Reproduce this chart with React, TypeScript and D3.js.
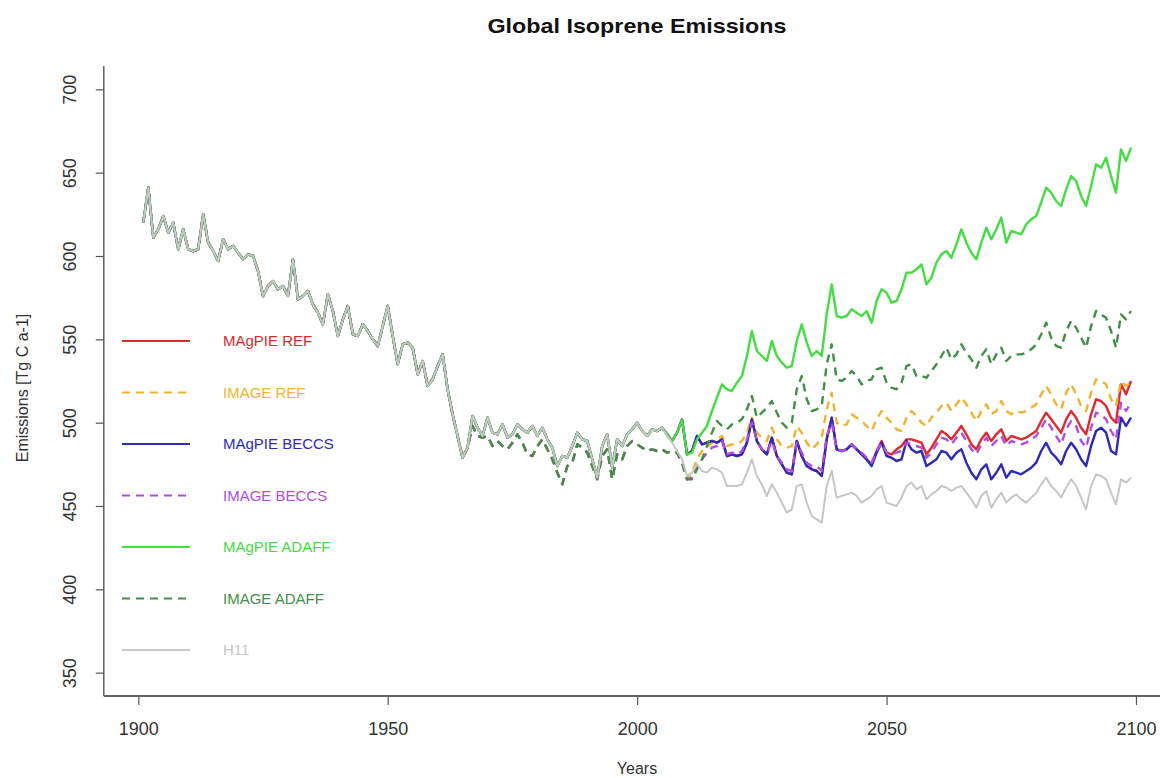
import { useEffect, useRef } from 'react';
import * as d3 from 'd3';

// Global isoprene emissions [Tg C a-1], one value per year 1901..2099
const years = d3.range(1901, 2100);

// 1901-1965, shared by every run
const histEarly = [
  620, 641, 611, 616, 624, 614, 620, 604, 616, 604,
  603, 604, 625, 608, 603, 597, 610, 604, 606, 602,
  598, 601, 600, 591, 576, 582, 585, 580, 582, 576,
  598, 574, 576, 579, 571, 566, 559, 577, 567, 552,
  562, 570, 553, 552, 559, 555, 550, 546, 558, 570,
  552, 535, 547, 548, 545, 529, 537, 522, 526, 534,
  541, 520, 505, 492, 479,
];

// 1966-2005
const magpieHist = [
  485, 504, 497, 492, 503, 494, 493, 499, 491, 493,
  499, 496, 494, 498, 492, 497, 490, 485, 474, 480,
  479, 486, 494, 490, 489, 478, 467, 486, 493, 473,
  490, 486, 493, 496, 500, 495, 492, 496, 495, 497,
];
const imageHist = [
  485, 498, 492, 491, 492, 486, 489, 486, 484, 488,
  493, 488, 481, 480, 486, 490, 484, 478, 470, 463,
  474, 476, 487, 485, 482, 474, 466, 480, 484, 466,
  481, 478, 486, 489, 487, 485, 483, 484, 483, 484,
];

// 2006-2010
const magpieTransition = [493, 489, 494, 502, 481];
const h11Transition = [492, 488, 483, 478, 468];
const imageTransition = [482, 483, 482, 476, 466];

// 2011-2099
const magpieRef = [
  483, 492, 487, 488, 489, 488, 490, 480, 481, 480,
  481, 488, 502, 489, 484, 481, 491, 480, 475, 470,
  469, 489, 480, 474, 472, 471, 468, 490, 503, 484,
  483, 484, 487, 484, 481, 478, 475, 483, 489, 482,
  481, 484, 486, 490, 490, 489, 488, 481, 485, 490,
  495, 493, 490, 494, 498, 493, 487, 484, 490, 494,
  489, 493, 496, 489, 492, 491, 490, 491, 493, 495,
  501, 506, 502, 498, 494, 502, 507, 503, 497, 493,
  505, 514, 513, 510, 503, 500, 523, 517, 525,
];
const imageRef = [
  470, 478, 483, 485, 488, 490, 492, 486, 487, 487,
  489, 494, 503, 494, 491, 489, 497, 490, 486, 485,
  486, 498, 494, 488, 484, 487, 491, 508, 518, 500,
  498, 499, 505, 503, 501, 498, 495, 502, 507, 503,
  500, 496, 495, 503, 507, 504, 500, 498, 503, 506,
  510, 512, 507, 511, 515, 511, 506, 501, 507, 511,
  505, 507, 513, 507, 505, 507, 506, 507, 509, 511,
  517, 522, 517, 511, 508, 518, 523, 517, 510, 507,
  518, 526, 525, 523, 514, 510, 525, 522, 524,
];
const magpieBeccs = [
  483, 492, 487, 488, 489, 488, 490, 480, 481, 480,
  481, 488, 502, 489, 484, 481, 491, 480, 475, 470,
  469, 489, 480, 474, 472, 471, 468, 490, 503, 484,
  483, 484, 487, 484, 481, 478, 474, 482, 488, 480,
  479, 477, 478, 489, 484, 482, 483, 474, 476, 478,
  483, 482, 478, 482, 484, 476, 470, 466, 472, 475,
  466, 470, 475, 467, 471, 470, 469, 471, 473, 476,
  483, 488, 482, 479, 475, 483, 488, 484, 478, 474,
  486, 495, 497, 494, 483, 481, 503, 498, 503,
];
const imageBeccs = [
  467, 474, 478, 482, 485, 486, 489, 481, 482, 481,
  483, 490, 500, 489, 484, 482, 489, 480, 476, 472,
  471, 488, 482, 476, 474, 474, 471, 492, 500, 484,
  483, 484, 487, 484, 482, 479, 476, 483, 488, 482,
  481, 482, 483, 488, 487, 486, 485, 479, 482, 487,
  491, 490, 487, 491, 494, 489, 484, 481, 487, 491,
  486, 489, 492, 486, 489, 488, 487, 488, 490, 492,
  497, 502, 497, 492, 487, 496, 501, 498, 489, 485,
  497, 506, 505, 502, 495, 490, 512, 507, 512,
];
const magpieAdaff = [
  482, 490, 494, 498, 507, 515, 523, 520, 519, 524,
  528, 540, 555, 543, 540, 537, 549, 540, 536, 533,
  534, 549, 559, 548, 540, 543, 540, 565, 583, 564,
  563, 564, 568, 566, 564, 567, 560, 573, 580, 578,
  572, 573, 580, 590, 590, 592, 595, 583, 587, 596,
  601, 603, 599, 607, 616, 608, 602, 598, 608, 617,
  610, 616, 623, 608, 615, 614, 613, 619, 622, 624,
  632, 641, 638, 633, 630, 640, 648, 645, 636, 630,
  642, 655, 653, 659, 648, 638, 664, 657, 665,
];
const imageAdaff = [
  466, 472, 478, 486, 494, 501, 498, 496, 499, 500,
  502, 508, 516, 503, 506, 509, 513, 506, 500, 497,
  500, 520, 528, 514, 507, 508, 510, 535, 547, 526,
  525, 527, 531, 528, 523, 525, 526, 532, 533, 524,
  521, 520, 524, 534, 535, 528, 528, 527, 531, 535,
  540, 545, 538, 541, 547, 542, 538, 533, 540, 544,
  535, 541, 545, 537, 540, 541, 541, 542, 544, 547,
  553, 560, 551, 546, 545, 555, 561, 557, 551, 545,
  558, 567, 565, 563, 555, 545, 565, 562, 567,
];
const h11 = [
  470, 475, 471, 470, 473, 472, 470, 462, 462, 462,
  463, 470, 478, 468, 463, 456, 463, 458, 452, 446,
  448, 462, 463, 452, 444, 442, 440, 462, 471, 455,
  456, 457, 458, 456, 452, 454, 456, 460, 462, 452,
  451, 450, 455, 462, 464, 460, 462, 454, 457, 459,
  462, 461, 459, 461, 462, 458, 454, 449, 456, 459,
  449, 454, 458, 452, 455, 457, 454, 452, 455, 458,
  463, 467, 462, 459, 455, 461, 466, 462, 455, 448,
  462, 469, 468, 466, 458, 451, 466, 464, 467,
];

const yTicks = [350, 400, 450, 500, 550, 600, 650, 700];
const xTicks = [1900, 1950, 2000, 2050, 2100];

const magpie = (f: number[]) => [...histEarly, ...magpieHist, ...magpieTransition, ...f];
const image = (f: number[]) => [...histEarly, ...imageHist, ...imageTransition, ...f];

const series = [
  { name: 'MAgPIE REF', color: '#e0282e', dashed: false, values: magpie(magpieRef) },
  { name: 'IMAGE REF', color: '#efb331', dashed: true, values: image(imageRef) },
  { name: 'MAgPIE BECCS', color: '#2b2bb8', dashed: false, values: magpie(magpieBeccs) },
  { name: 'IMAGE BECCS', color: '#b04de0', dashed: true, values: image(imageBeccs) },
  { name: 'MAgPIE ADAFF', color: '#44dd44', dashed: false, values: magpie(magpieAdaff) },
  { name: 'IMAGE ADAFF', color: '#3f8f47', dashed: true, values: image(imageAdaff) },
  { name: 'H11', color: '#c6c6c6', dashed: false, values: [...histEarly, ...magpieHist, ...h11Transition, ...h11] },
];

const FONT = '"Liberation Sans", Arial, Helvetica, sans-serif';

export default function App() {
  const ref = useRef<SVGSVGElement>(null);

  useEffect(() => {
    if (!ref.current) return;
    const svg = d3.select(ref.current);
    svg.selectAll('*').remove();

    // R-style 4% padding around the data range
    const xPad = (2099 - 1901) * 0.04;
    const x = d3.scaleLinear().domain([1901 - xPad, 2099 + xPad]).range([103.8, 1170.5]);
    const yPad = (700 - 350) * 0.04;
    const y = d3.scaleLinear().domain([350 - yPad, 700 + yPad]).range([696, 66]);

    const line = d3
      .line<number>()
      .x((_, i) => x(years[i]))
      .y((d) => y(d));

    series.forEach((s) => {
      svg
        .append('path')
        .datum(s.values)
        .attr('fill', 'none')
        .attr('stroke', s.color)
        .attr('stroke-width', s.name === 'H11' ? 2 : 2.4)
        .attr('stroke-linejoin', 'round')
        .attr('stroke-dasharray', s.dashed ? '8,6' : null)
        .attr('d', line);
    });

    // L-shaped box
    svg.append('line').attr('x1', 103.8).attr('x2', 103.8).attr('y1', 66).attr('y2', 696)
      .attr('stroke', '#555').attr('stroke-width', 1.4);
    svg.append('line').attr('x1', 103.8).attr('x2', 1170).attr('y1', 696).attr('y2', 696)
      .attr('stroke', '#666').attr('stroke-width', 1.8);

    // Y axis
    svg
      .append('g')
      .attr('transform', 'translate(103.8,0)')
      .call(d3.axisLeft(y).tickValues(yTicks).tickSize(8).tickFormat(d3.format('d')))
      .call((g) => g.select('.domain').remove())
      .call((g) => g.selectAll('.tick line').attr('stroke', '#555').attr('stroke-width', 1.2))
      .call((g) =>
        g
          .selectAll('.tick text')
          .attr('x', null)
          .attr('dy', null)
          .attr('text-anchor', 'middle')
          .attr('transform', 'translate(-28,0) rotate(-90)')
          .attr('fill', '#333')
          .style('font-family', FONT)
          .style('font-size', '18px')
      );

    // X axis
    svg
      .append('g')
      .attr('transform', 'translate(0,696)')
      .call(d3.axisBottom(x).tickValues(xTicks).tickSize(9).tickFormat(d3.format('d')))
      .call((g) => g.select('.domain').remove())
      .call((g) => g.selectAll('.tick line').attr('stroke', '#555').attr('stroke-width', 1.2))
      .call((g) =>
        g
          .selectAll('.tick text')
          .attr('y', 39)
          .attr('dy', null)
          .attr('fill', '#333')
          .style('font-family', FONT)
          .style('font-size', '18px')
      );

    // Title and axis labels
    svg.append('text').attr('x', 637).attr('y', 33).attr('text-anchor', 'middle')
      .attr('textLength', 299).attr('lengthAdjust', 'spacingAndGlyphs')
      .style('font-family', FONT).style('font-weight', 'bold').style('font-size', '21px')
      .attr('fill', '#111').text('Global Isoprene Emissions');
    svg.append('text').attr('x', 637).attr('y', 774).attr('text-anchor', 'middle')
      .style('font-family', FONT).style('font-size', '16px').attr('fill', '#333').text('Years');
    svg.append('text').attr('transform', 'translate(28,388) rotate(-90)').attr('text-anchor', 'middle')
      .style('font-family', FONT).style('font-size', '16px').attr('fill', '#333')
      .text('Emissions [Tg C a-1]');

    // Legend
    const legend = svg.append('g');
    series.forEach((s, i) => {
      const ly = 341 + i * 51.5;
      legend.append('line').attr('x1', 122).attr('x2', 190).attr('y1', ly).attr('y2', ly)
        .attr('stroke', s.color).attr('stroke-width', 2)
        .attr('stroke-dasharray', s.dashed ? '8,6' : null);
      legend.append('text').attr('x', 223).attr('y', ly + 5)
        .style('font-family', FONT).style('font-size', '15px')
        .attr('fill', s.color).text(s.name);
    });
  }, []);

  return (
    <svg
      ref={ref}
      width={1160}
      height={778}
      style={{ position: 'absolute', left: 0, top: 0, background: '#fff' }}
    />
  );
}
